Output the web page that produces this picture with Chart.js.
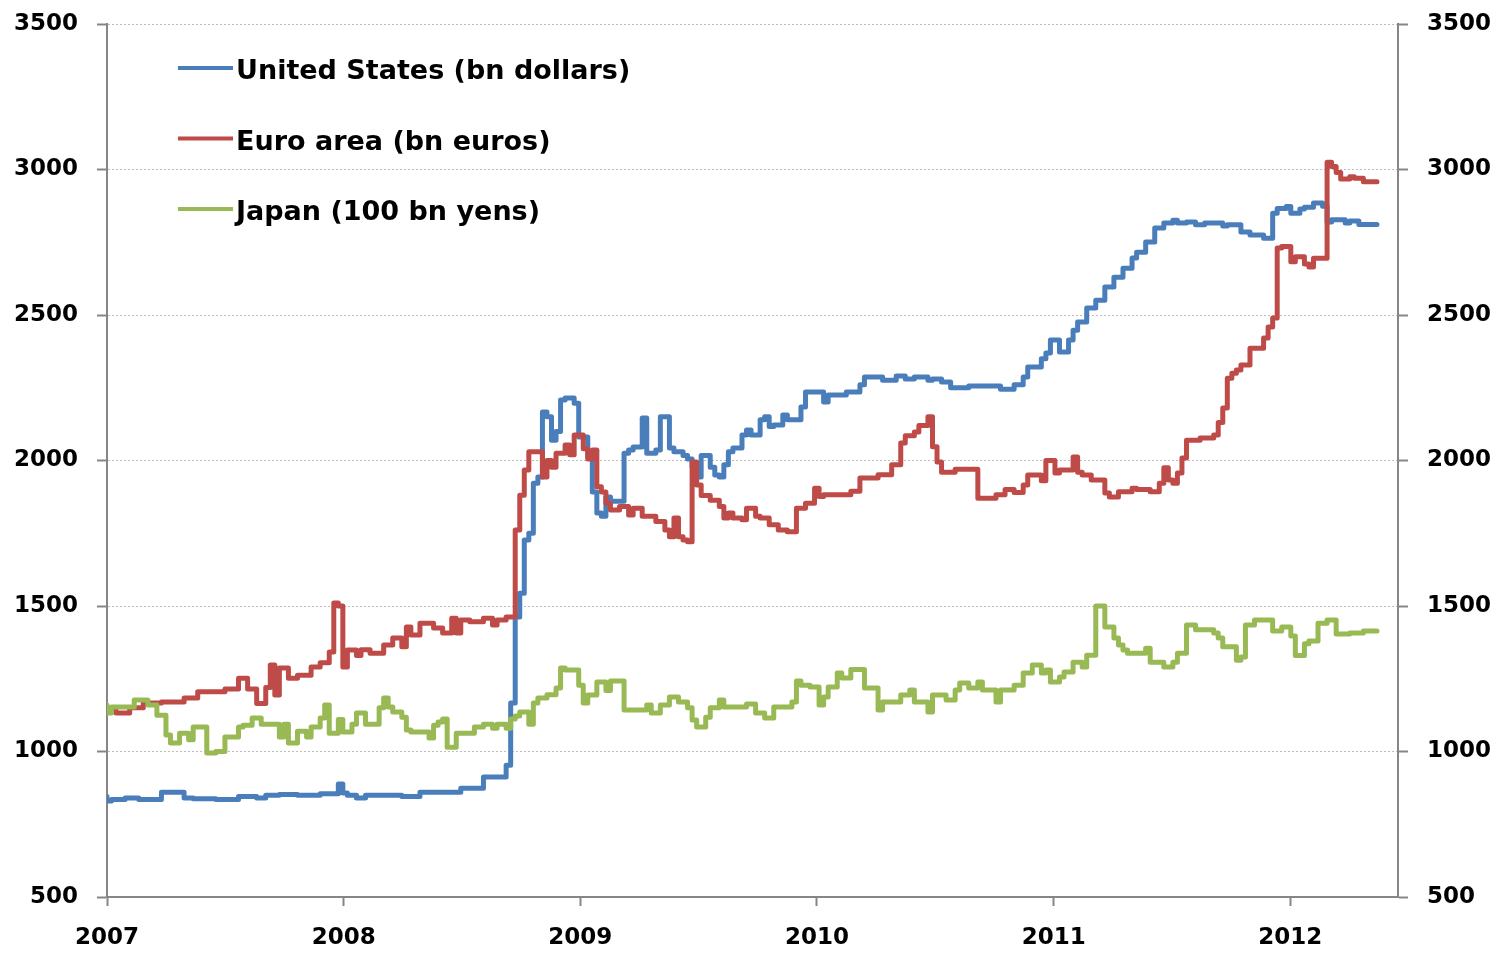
<!DOCTYPE html>
<html>
<head>
<meta charset="utf-8">
<title>Central bank balance sheets</title>
<script src="https://cdn.jsdelivr.net/npm/chart.js@4.4.1/dist/chart.umd.min.js"></script>
<style>
  html, body { margin: 0; padding: 0; background: #fff; }
  #wrap { width: 1496px; height: 953px; }
</style>
</head>
<body>
<div id="wrap"><canvas id="chart" width="1496" height="953"></canvas></div>
<script>
// weeks counted from the first week of 2007

const usWeeks = [0,1,4,7,12,17,19,24,29,33,35,38,42,47,51,52,53,55,57,61,65,69,74,78,83,88,89,90,91,92,93,94,95,96,97,98,99,100,101,103,104,106,107,108,109,110,111,114,115,116,118,119,121,122,124,125,127,128,129,130,131,133,134,135,136,137,138,140,141,142,144,145,146,147,149,150,153,154,158,159,163,166,167,171,174,176,178,181,182,184,186,190,197,200,202,203,206,207,208,210,212,213,214,216,218,220,222,224,226,227,229,231,233,235,236,238,240,242,246,247,250,252,255,257,258,260,261,263,264,266,268,269,270,273,274,276,280];
const usValues = [845,830,835,840,835,860,840,838,835,845,840,850,852,850,855,888,857,850,840,850,850,845,860,860,874,912,953,1167,1462,1544,1727,1750,1922,1943,2167,2150,2070,2100,2208,2215,2197,2081,2012,1892,1820,1808,1875,1860,2025,2036,2046,2146,2025,2036,2150,2043,2030,2017,2005,1978,1943,2017,1977,1950,1943,1985,2030,2043,2088,2105,2088,2140,2150,2117,2122,2156,2140,2184,2235,2201,2225,2235,2260,2287,2276,2290,2280,2287,2276,2280,2270,2250,2256,2245,2260,2287,2321,2350,2369,2414,2373,2414,2448,2476,2524,2551,2596,2630,2661,2696,2716,2751,2799,2816,2826,2816,2820,2810,2816,2806,2810,2785,2775,2764,2850,2866,2873,2850,2864,2870,2885,2874,2820,2827,2816,2823,2811];

const euWeeks = [0,2,5,8,12,17,20,26,29,31,33,35,36,37,38,40,42,45,47,49,50,51,52,53,55,56,58,61,63,65,66,67,69,72,74,76,77,78,80,83,85,86,88,90,91,92,93,96,97,98,99,101,102,103,105,106,107,108,109,110,111,113,115,116,118,121,123,124,125,126,127,128,129,130,131,133,135,136,137,138,140,141,143,144,146,148,150,152,154,156,157,158,164,166,170,173,175,176,178,179,181,182,183,184,187,192,196,198,200,202,203,206,207,209,210,213,214,215,217,220,221,223,226,227,230,232,233,234,235,236,237,238,241,244,245,246,247,248,249,250,252,255,256,257,258,259,261,262,264,265,266,269,270,271,272,274,275,277,280];
const euValues = [1153,1140,1132,1150,1167,1170,1184,1205,1215,1252,1215,1165,1220,1297,1194,1287,1252,1262,1290,1305,1342,1510,1500,1290,1349,1330,1350,1338,1366,1390,1360,1428,1400,1441,1424,1407,1458,1407,1452,1446,1458,1435,1452,1462,1761,1881,1967,2030,1943,2000,1977,2025,2053,2020,2088,2040,2005,2036,1910,1892,1853,1830,1842,1813,1836,1808,1790,1761,1738,1802,1738,1727,1721,1995,1916,1880,1863,1842,1802,1820,1802,1796,1836,1808,1802,1779,1761,1755,1836,1853,1905,1876,1882,1894,1940,1951,1985,2060,2085,2098,2120,2150,2047,1995,1960,1970,1870,1882,1900,1890,1916,1950,1930,2000,1957,1967,2012,1960,1950,1933,1888,1875,1893,1905,1900,1893,1922,1975,1933,1922,1957,2009,2070,2077,2088,2131,2180,2283,2300,2311,2328,2386,2421,2459,2490,2730,2735,2683,2700,2675,2665,2695,3025,3010,2990,2967,2975,2970,2958];

const jpWeeks = [0,1,6,9,11,13,14,16,18,19,22,24,26,29,30,32,34,38,39,40,42,44,45,47,48,49,51,52,54,55,57,60,61,62,63,65,66,67,71,72,73,74,75,77,81,83,85,86,88,89,90,91,93,94,95,97,99,100,101,104,105,106,108,110,111,114,119,120,122,124,126,128,129,130,132,133,135,136,141,143,145,147,151,152,153,155,157,158,159,161,162,164,167,170,171,175,177,178,181,182,185,187,188,190,192,193,196,197,200,202,204,206,207,208,210,211,213,215,216,218,220,222,223,224,225,229,230,233,235,236,238,240,244,245,246,249,250,251,253,257,259,261,262,264,265,267,269,271,274,277,280];
const jpValues = [1160,1132,1153,1177,1160,1125,1057,1029,1063,1040,1084,995,1000,1050,1084,1090,1115,1094,1050,1094,1029,1070,1050,1084,1115,1160,1063,1110,1067,1094,1132,1094,1150,1184,1153,1136,1118,1074,1067,1046,1090,1101,1112,1015,1063,1084,1094,1080,1094,1080,1112,1122,1136,1094,1167,1184,1195,1218,1287,1280,1228,1167,1194,1239,1210,1242,1143,1160,1132,1160,1187,1170,1150,1108,1084,1118,1150,1177,1153,1163,1132,1115,1153,1170,1242,1228,1222,1160,1187,1222,1270,1253,1282,1218,1143,1170,1194,1211,1170,1136,1194,1177,1211,1235,1218,1239,1211,1170,1211,1228,1270,1297,1270,1280,1239,1256,1273,1307,1290,1331,1500,1428,1390,1366,1349,1338,1355,1307,1290,1307,1338,1435,1418,1407,1390,1360,1314,1325,1435,1452,1414,1428,1397,1330,1370,1380,1441,1452,1404,1407,1414];

const seriesLabels = ['United States (bn dollars)', 'Euro area (bn euros)', 'Japan (100 bn yens)'];
const seriesColors = ['#4a7ebb', '#be4b48', '#98b954'];
const startYear = 2007;
const endYear = 2012.455;
const yMin = 500;
const yMax = 3500;
const yStep = 500;

// week index -> decimal year on the x axis
function toPoints(weeks, values) {
  return weeks.map((w, i) => ({ x: startYear + w * 7 / 365.25, y: values[i] }));
}

// legend drawn inside the plot, top left, like the original
const insideLegend = {
  id: 'insideLegend',
  afterDatasetsDraw(chart) {
    const ctx = chart.ctx;
    ctx.save();
    ctx.font = 'bold 27px "DejaVu Sans"';
    ctx.textBaseline = 'alphabetic';
    chart.data.datasets.forEach((ds, i) => {
      const y = 68 + i * 70.5;
      ctx.strokeStyle = ds.borderColor;
      ctx.lineWidth = 4;
      ctx.beginPath();
      ctx.moveTo(178, y);
      ctx.lineTo(233, y);
      ctx.stroke();
      ctx.fillStyle = '#000';
      ctx.fillText(ds.label, 236, y + 11);
    });
    ctx.restore();
  }
};

const axisGray = '#868686';
const tickFont = { family: 'DejaVu Sans', size: 23, weight: 'bold' };

// pin the plot area: fixed axis sizes, no extra label padding
function fixVertical(width) {
  return scale => {
    scale.width = width;
    scale.paddingTop = 0;
    scale.paddingBottom = 0;
  };
}

new Chart(document.getElementById('chart'), {
  type: 'line',
  data: {
    datasets: [
      { label: seriesLabels[0], data: toPoints(usWeeks, usValues), borderColor: seriesColors[0], order: 3 },
      { label: seriesLabels[1], data: toPoints(euWeeks, euValues), borderColor: seriesColors[1], order: 2 },
      { label: seriesLabels[2], data: toPoints(jpWeeks, jpValues), borderColor: seriesColors[2], order: 1 }
    ]
  },
  options: {
    responsive: false,
    animation: false,
    layout: { padding: { top: 24, left: 0, right: 0, bottom: 0 } },
    elements: {
      line: { borderWidth: 5, stepped: 'after', fill: false, borderJoinStyle: 'round', borderCapStyle: 'round' },
      point: { radius: 0, hoverRadius: 0 }
    },
    plugins: { legend: { display: false }, tooltip: { enabled: false } },
    scales: {
      x: {
        type: 'linear',
        position: 'bottom',
        min: startYear,
        max: endYear,
        afterFit(scale) {
          scale.height = 56;
          scale.paddingLeft = 0;
          scale.paddingRight = 0;
        },
        ticks: {
          stepSize: 1,
          includeBounds: false,
          autoSkip: false,
          maxRotation: 0,
          padding: 18,
          color: '#000',
          font: tickFont,
          callback: v => String(v)
        },
        grid: { drawOnChartArea: false, drawTicks: true, tickLength: 9, tickColor: axisGray, tickWidth: 2 },
        border: { color: axisGray, width: 2 }
      },
      y: {
        position: 'left',
        min: yMin,
        max: yMax,
        afterFit: fixVertical(107),
        ticks: { stepSize: yStep, padding: 19, color: '#000', font: tickFont, callback: v => String(v) },
        grid: {
          color: c => (c.tick && c.tick.value === yMin ? 'rgba(0,0,0,0)' : '#bdbdbd'),
          lineWidth: 1,
          tickLength: 10,
          tickColor: axisGray,
          tickWidth: 2
        },
        border: { color: axisGray, width: 2, dash: [2, 2] }
      },
      y2: {
        position: 'right',
        min: yMin,
        max: yMax,
        afterFit: fixVertical(98),
        ticks: { stepSize: yStep, padding: 19, color: '#000', font: tickFont, callback: v => String(v) },
        grid: { drawOnChartArea: false, tickLength: 10, tickColor: axisGray, tickWidth: 2 },
        border: { color: axisGray, width: 2 }
      }
    }
  },
  plugins: [insideLegend]
});
</script>
</body>
</html>
